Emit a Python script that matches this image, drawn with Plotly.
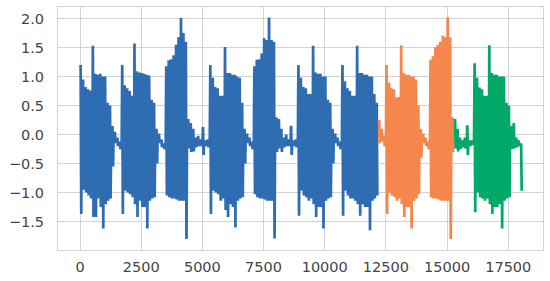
import plotly.graph_objects as go

# Envelope of the signal, one (upper, lower) pair per 100-sample bin
bin_size = 100
upper = [
    1.2, 0.95, 0.82, 0.78, 0.76, 1.53, 1.05, 1.03, 1.05, 1.0,
    1.0, 0.55, 0.5, 0.15, 0.05, -0.05, -0.12, 1.2, 0.85, 0.8,
    0.75, 0.67, 1.57, 1.09, 1.07, 1.06, 1.05, 1.03, 1.02, 0.6,
    0.55, 0.1, 0.02, -0.08, -0.15, 1.18, 1.28, 1.3, 1.37, 1.55,
    1.68, 2.01, 1.75, 1.6, 0.27, 0.2, 0.1, -0.05, -0.02, -0.08,
    0.13, -0.1, -0.08, 1.2, 0.98, 0.82, 0.8, 0.67, 0.67, 1.51,
    1.06, 1.06, 1.03, 1.03, 1.0, 0.98, 0.55, 0.1, 0.02, -0.05,
    -0.12, 1.18, 1.29, 1.3, 1.4, 1.66, 1.63, 2.02, 1.63, 1.6,
    0.3, 0.27, 0.1, -0.05, 0.0, -0.08, 0.15, -0.1, -0.08, 1.2,
    0.98, 0.82, 0.8, 0.7, 0.7, 1.53, 1.07, 1.05, 1.05, 1.0,
    1.0, 0.6, 0.55, 0.1, 0.02, -0.05, -0.12, 1.2, 0.92, 0.8,
    0.75, 0.67, 0.67, 1.53, 1.06, 1.06, 1.03, 1.03, 1.0, 1.0,
    0.7, 0.55, 0.25, 0.1, -0.02, 1.2, 0.9, 0.8, 0.78, 0.64,
    0.65, 1.54, 1.06, 1.03, 1.03, 1.0, 1.0, 0.95, 0.5, 0.1,
    0.02, -0.05, -0.12, 1.29, 1.35, 1.51, 1.55, 1.6, 1.71, 1.68,
    2.02, 1.68, 0.3, 0.27, 0.1, -0.05, -0.1, -0.05, 0.16, -0.1,
    -0.1, 1.23, 0.98, 0.81, 0.78, 0.67, 0.67, 1.54, 1.06, 1.03,
    1.03, 1.0, 1.0, 1.0, 0.55, 0.5, 0.15, 0.2, -0.05, -0.1,
    -0.15,
]
lower = [
    -1.37, -0.95, -1.0, -1.05, -1.1, -1.42, -1.42, -1.1, -1.25, -1.62,
    -1.2, -1.14, -1.1, -0.55, -0.15, -0.2, -0.25, -1.37, -0.97, -1.0,
    -1.03, -1.08, -1.2, -1.42, -1.14, -1.25, -1.25, -1.62, -1.14, -1.1,
    -1.08, -0.5, -0.15, -0.22, -0.25, -1.05, -1.08, -1.1, -1.1, -1.12,
    -1.14, -1.14, -1.14, -1.8, -0.24, -0.3, -0.29, -0.22, -0.2, -0.2,
    -0.35, -0.2, -0.22, -1.37, -0.97, -1.0, -1.03, -1.14, -1.1, -1.3,
    -1.42, -1.2, -1.25, -1.6, -1.14, -1.1, -1.08, -0.5, -0.15, -0.2,
    -0.25, -1.03, -1.08, -1.1, -1.1, -1.12, -1.14, -1.14, -1.14, -1.79,
    -0.3, -0.24, -0.3, -0.22, -0.2, -0.2, -0.35, -0.2, -0.22, -1.4,
    -0.97, -1.05, -1.08, -1.14, -1.1, -1.2, -1.42, -1.25, -1.25, -1.62,
    -1.14, -1.1, -1.08, -0.5, -0.15, -0.2, -0.25, -1.4, -0.97, -1.05,
    -1.1, -1.1, -1.14, -1.2, -1.4, -1.2, -1.25, -1.25, -1.65, -1.14,
    -1.1, -1.05, -0.15, -0.12, -0.2, -1.37, -1.0, -1.05, -1.08, -1.14,
    -1.1, -1.2, -1.42, -1.25, -1.25, -1.62, -1.14, -1.1, -1.03, -0.4,
    -0.15, -0.2, -0.25, -1.08, -1.1, -1.1, -1.12, -1.14, -1.14, -1.14,
    -1.14, -1.8, -0.3, -0.24, -0.29, -0.25, -0.22, -0.24, -0.35, -0.2,
    -0.18, -1.34, -1.0, -1.08, -1.1, -1.14, -1.1, -1.2, -1.37, -1.25,
    -1.25, -1.2, -1.62, -1.14, -1.1, -1.08, -0.25, -0.24, -0.22, -0.2,
    -0.97,
]

# segments: (first bin, last bin exclusive) and colours
segment_names = ["train", "valid", "test"]
segment_bins = [(0, 122), (122, 153), (153, 181)]
segment_colors = ["#2F6DB3", "#F5864C", "#00A86A"]

x_ticks = [0, 2500, 5000, 7500, 10000, 12500, 15000, 17500]
y_ticks = [-1.5, -1.0, -0.5, 0.0, 0.5, 1.0, 1.5, 2.0]

fig = go.Figure()
q = bin_size / 4
for name, (b0, b1), col in zip(segment_names, segment_bins, segment_colors):
    xs, ys = [], []
    for i in range(b0, b1):
        base = i * bin_size
        # the signal oscillates between the bin's upper and lower envelope
        xs += [base, base + q, base + 2 * q, base + 3 * q]
        ys += [upper[i], lower[i], upper[i], lower[i]]
    fig.add_trace(go.Scatter(x=xs, y=ys, mode="lines", name=name,
                             line=dict(color=col, width=1.5),
                             showlegend=False, hoverinfo="skip"))

def fmt(v):
    return f"{v:.1f}".replace("-", "\u2212")

axis_common = dict(showgrid=True, gridcolor="#D3D3D3", gridwidth=1,
                   showline=True, linecolor="#D3D3D3", linewidth=1, mirror=True,
                   zeroline=False, ticks="",
                   tickfont=dict(family="DejaVu Sans", size=14.5, color="#444444"))

fig.update_layout(
    width=550, height=281,
    margin=dict(l=58, r=6, t=6, b=28),
    paper_bgcolor="white", plot_bgcolor="white",
    xaxis=dict(range=[-900, 18920], tickvals=x_ticks,
               ticktext=[str(t) for t in x_ticks], ticklabelstandoff=4,
               **axis_common),
    yaxis=dict(range=[-1.99, 2.2], tickvals=y_ticks,
               ticktext=[fmt(v) for v in y_ticks], ticklabelstandoff=10,
               **axis_common),
)

fig.write_html("out.html", config={"displayModeBar": False},
               post_script="document.body.style.margin='0';document.body.style.overflow='hidden';")
